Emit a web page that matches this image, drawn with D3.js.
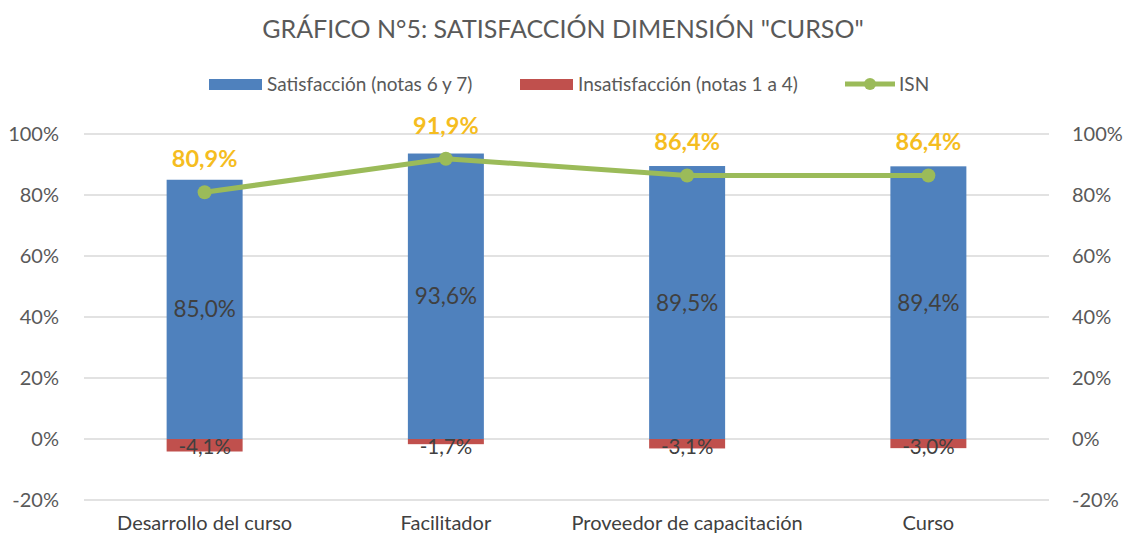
<!DOCTYPE html>
<html>
<head>
<meta charset="utf-8">
<script src="https://cdn.jsdelivr.net/npm/d3@7"></script>
<style>
  body { margin: 0; background: #fff; }
  text { font-family: Lato, "Open Sans", sans-serif; }
</style>
</head>
<body>
<div id="chart"></div>
<script>
// data
const categories = ["Desarrollo del curso", "Facilitador", "Proveedor de capacitación", "Curso"];
const satisfaccion = [85.0, 93.6, 89.5, 89.4];
const insatisfaccion = [-4.1, -1.7, -3.1, -3.0];
const isn = [80.9, 91.9, 86.4, 86.4];
const yTicks = [-20, 0, 20, 40, 60, 80, 100];

const W = 1127, H = 535;
const plotLeft = 84, plotRight = 1049, plotTop = 134, plotBottom = 500;
const FONT = "Lato, Open Sans, sans-serif";

const fmt = v => v.toFixed(1).replace(".", ",") + "%";

const svg = d3.select("#chart").append("svg")
    .attr("width", W)
    .attr("height", H);

const x = d3.scaleBand()
    .domain(categories)
    .range([plotLeft, plotRight])
    .paddingInner(0.685)
    .paddingOuter(0.3425);

const y = d3.scaleLinear()
    .domain([-20, 100])
    .range([plotBottom, plotTop]);

// title
svg.append("text")
    .attr("x", 563).attr("y", 38)
    .attr("text-anchor", "middle")
    .attr("font-size", 25)
    .attr("fill", "#595959")
    .text('GRÁFICO N°5: SATISFACCIÓN DIMENSIÓN "CURSO"');

// gridlines
svg.append("g").selectAll("line")
    .data(yTicks)
    .join("line")
    .attr("x1", plotLeft).attr("x2", plotRight)
    .attr("y1", d => y(d)).attr("y2", d => y(d))
    .attr("stroke", "#d9d9d9")
    .attr("stroke-width", 1.3);

// left and right axes
const axisL = svg.append("g")
    .attr("transform", "translate(" + (plotLeft - 25) + ",0)")
    .call(d3.axisLeft(y).tickValues(yTicks).tickSize(0).tickPadding(0).tickFormat(d => d + "%"));
const axisR = svg.append("g")
    .attr("transform", "translate(" + (plotRight + 23) + ",0)")
    .call(d3.axisRight(y).tickValues(yTicks).tickSize(0).tickPadding(0).tickFormat(d => d + "%"));
[axisL, axisR].forEach(a => {
    a.select(".domain").remove();
    a.selectAll("text")
        .attr("font-size", 20)
        .attr("fill", "#595959")
        .attr("font-family", FONT);
});

// category axis
const axisB = svg.append("g")
    .attr("transform", "translate(0," + (plotBottom + 13) + ")")
    .call(d3.axisBottom(x).tickSize(0));
axisB.select(".domain").remove();
axisB.selectAll("text")
    .attr("font-size", 20)
    .attr("fill", "#404040")
    .attr("font-family", FONT);

// bars
svg.append("g").selectAll("rect")
    .data(categories)
    .join("rect")
    .attr("x", d => x(d))
    .attr("width", x.bandwidth())
    .attr("y", (d, i) => y(satisfaccion[i]))
    .attr("height", (d, i) => y(0) - y(satisfaccion[i]))
    .attr("fill", "#4f81bd");

svg.append("g").selectAll("rect")
    .data(categories)
    .join("rect")
    .attr("x", d => x(d))
    .attr("width", x.bandwidth())
    .attr("y", y(0))
    .attr("height", (d, i) => y(insatisfaccion[i]) - y(0))
    .attr("fill", "#c0504d");

// bar labels
svg.append("g").selectAll("text")
    .data(categories)
    .join("text")
    .attr("x", d => x(d) + x.bandwidth() / 2)
    .attr("y", (d, i) => (y(0) + y(satisfaccion[i])) / 2 + 8)
    .attr("text-anchor", "middle")
    .attr("font-size", 22.5)
    .attr("fill", "#404040")
    .text((d, i) => fmt(satisfaccion[i]));

svg.append("g").selectAll("text")
    .data(categories)
    .join("text")
    .attr("x", d => x(d) + x.bandwidth() / 2)
    .attr("y", y(0) + 15)
    .attr("text-anchor", "middle")
    .attr("font-size", 20.5)
    .attr("fill", "#404040")
    .text((d, i) => fmt(insatisfaccion[i]));

// ISN line
const cx = d => x(d) + x.bandwidth() / 2;
svg.append("path")
    .datum(categories)
    .attr("fill", "none")
    .attr("stroke", "#9bbb59")
    .attr("stroke-width", 5)
    .attr("d", d3.line().x(d => cx(d)).y((d, i) => y(isn[i])));

svg.append("g").selectAll("circle")
    .data(categories)
    .join("circle")
    .attr("cx", d => cx(d))
    .attr("cy", (d, i) => y(isn[i]))
    .attr("r", 7)
    .attr("fill", "#9bbb59");

svg.append("g").selectAll("text")
    .data(categories)
    .join("text")
    .attr("x", d => cx(d))
    .attr("y", (d, i) => y(isn[i]) - 25)
    .attr("text-anchor", "middle")
    .attr("font-size", 23.5)
    .attr("font-weight", 700)
    .attr("fill", "#f5bd1f")
    .text((d, i) => fmt(isn[i]));

// legend
const lg = svg.append("g").attr("font-size", 19).attr("fill", "#595959");
lg.append("rect").attr("x", 209).attr("y", 79).attr("width", 53).attr("height", 11).attr("fill", "#4f81bd");
lg.append("text").attr("x", 267).attr("y", 91).text("Satisfacción (notas 6 y 7)");
lg.append("rect").attr("x", 520).attr("y", 79).attr("width", 53).attr("height", 11).attr("fill", "#c0504d");
lg.append("text").attr("x", 578).attr("y", 91).text("Insatisfacción (notas 1 a 4)");
lg.append("line").attr("x1", 845).attr("x2", 895).attr("y1", 84).attr("y2", 84)
    .attr("stroke", "#9bbb59").attr("stroke-width", 5);
lg.append("circle").attr("cx", 870).attr("cy", 84).attr("r", 6).attr("fill", "#9bbb59");
lg.append("text").attr("x", 899).attr("y", 91).text("ISN");
</script>
</body>
</html>
